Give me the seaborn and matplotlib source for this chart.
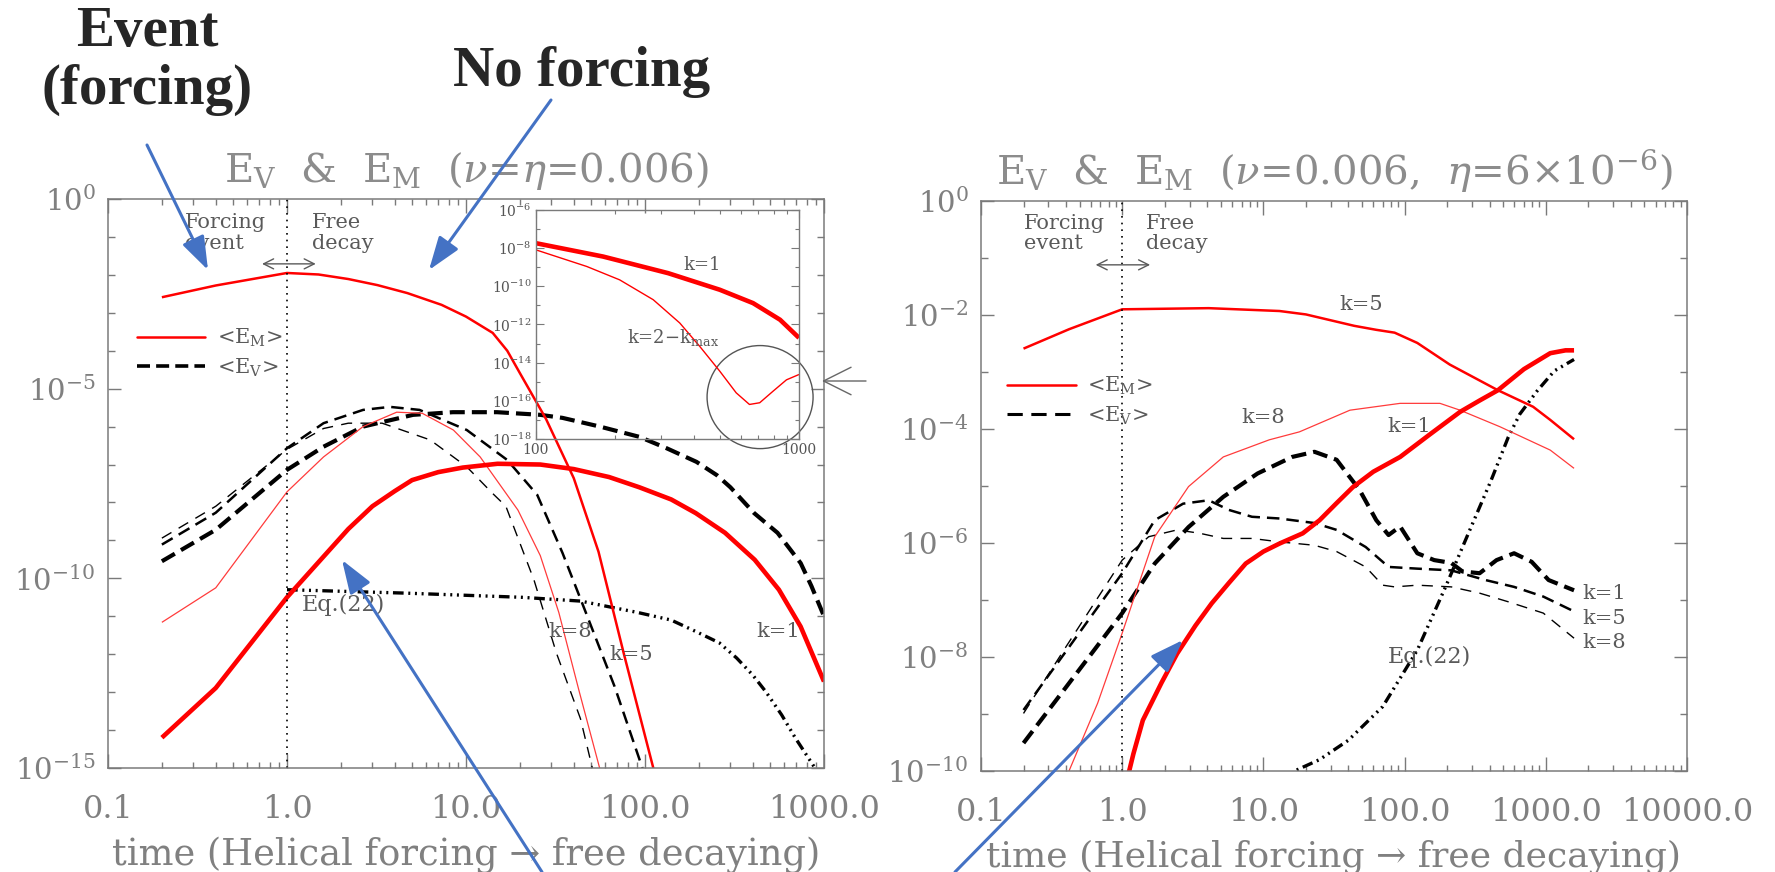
import numpy as np
import matplotlib
matplotlib.use("Agg")
import matplotlib.pyplot as plt
import seaborn as sns
from matplotlib.lines import Line2D
from matplotlib.patches import Ellipse, FancyArrowPatch
from matplotlib.ticker import NullFormatter, LogLocator

sns.set_style("ticks")
plt.rcParams["font.family"] = ["DejaVu Serif"]
plt.rcParams["mathtext.fontset"] = "dejavuserif"

W, H = 1775, 872

# ---- left panel (nu = eta = 0.006), energies stored as log10(E) ----
t_em5_L = [0.2, 0.4, 1.0, 1.5, 2.2, 3.2, 4.7, 7.3, 10.0, 14.1, 17.0, 20.0, 28.0, 40.0, 55.0, 76.0, 120.0]
lg_em5_L = [-2.59, -2.28, -1.95, -1.99, -2.11, -2.27, -2.48, -2.79, -3.1, -3.53, -4.0, -4.59, -5.8, -7.36, -9.3,
            -11.97, -15.6]

t_em1_L = [0.2, 0.4, 1.0, 2.2, 3.0, 4.0, 5.0, 7.0, 9.6, 15.0, 26.0, 40.0, 63.0, 93.0, 140.0, 192.0, 280.0, 410.0,
           560.0, 740.0, 1000.0]
lg_em1_L = [-14.2, -12.89, -10.5, -8.7, -8.1, -7.7, -7.41, -7.2, -7.08, -6.98, -7.0, -7.12, -7.33, -7.6, -7.92,
            -8.28, -8.8, -9.51, -10.3, -11.27, -12.72]

t_em8_L = [0.2, 0.4, 1.0, 1.6, 2.66, 4.1, 5.7, 8.5, 12.0, 19.5, 26.0, 33.0, 43.0, 58.0]
lg_em8_L = [-11.16, -10.25, -7.72, -6.8, -6.0, -5.62, -5.65, -6.09, -6.8, -8.2, -9.4, -10.9, -13.0, -15.3]

t_ev1_L = [0.2, 0.4, 1.0, 1.6, 2.66, 5.06, 8.46, 14.9, 26.0, 34.6, 56.0, 93.0, 132.0, 194.0, 252.0, 300.0, 407.0,
           550.0, 741.0, 850.0, 1000.0]
lg_ev1_L = [-9.55, -8.72, -7.14, -6.53, -6.0, -5.69, -5.62, -5.62, -5.69, -5.77, -6.0, -6.27, -6.57, -6.93, -7.28,
            -7.6, -8.28, -8.8, -9.6, -10.2, -11.0]

t_ev5_L = [0.2, 0.4, 1.0, 1.6, 2.66, 3.76, 5.5, 10.1, 17.0, 25.0, 34.6, 46.7, 67.6, 100.0]
lg_ev5_L = [-9.11, -8.27, -6.57, -5.91, -5.56, -5.48, -5.56, -6.09, -6.88, -7.8, -9.33, -10.9, -12.85, -15.2]

t_ev8_L = [0.2, 0.4, 1.0, 1.6, 2.2, 3.4, 6.3, 10.1, 14.0, 16.7, 24.0, 32.0, 43.6, 52.0]
lg_ev8_L = [-8.94, -8.1, -6.6, -6.05, -5.91, -5.91, -6.35, -7.06, -7.75, -8.1, -10.05, -11.97, -13.7, -15.2]

t_eq22_L = [1.0, 4.6, 20.5, 43.6, 91.0, 140.0, 192.0, 260.0, 325.0, 400.0, 475.0, 580.0, 690.0, 890.0, 1000.0]
lg_eq22_L = [-10.3, -10.39, -10.5, -10.6, -10.9, -11.1, -11.4, -11.7, -12.1, -12.55, -13.0, -13.6, -14.2, -15.0,
             -15.6]

# inset (late times, left run)
t_in_k1 = [100, 180, 318, 500, 669, 847, 1000]
lg_in_k1 = [-7.74, -8.44, -9.31, -10.18, -10.88, -11.75, -12.7]
t_in_k2 = [100, 156, 208, 279, 352, 419, 500, 577, 648, 709, 796, 896, 1000]
lg_in_k2 = [-8.09, -8.96, -9.66, -10.7, -11.92, -13.14, -14.45, -15.58, -16.19, -16.1, -15.5, -14.9, -14.62]

# ---- right panel (nu = 0.006, eta = 6e-6) ----
t_em5_R = [0.2, 0.42, 1.0, 4.1, 13.0, 20.0, 44.0, 63.0, 85.0, 123.0, 209.0, 458.0, 813.0, 1075.0, 1585.0]
lg_em5_R = [-2.59, -2.25, -1.90, -1.88, -1.93, -1.99, -2.19, -2.26, -2.31, -2.49, -2.87, -3.32, -3.61, -3.84, -4.18]

t_em1_R = [1.0, 1.2, 1.4, 1.9, 2.45, 3.3, 4.3, 5.7, 7.5, 10.0, 13.0, 19.0, 25.0, 33.0, 43.0, 60.0, 93.0, 150.0,
           247.0, 340.0, 458.0, 700.0, 1075.0, 1380.0, 1585.0]
lg_em1_R = [-10.5, -9.7, -9.11, -8.45, -7.94, -7.45, -7.06, -6.7, -6.36, -6.15, -6.01, -5.83, -5.60, -5.3, -5.02,
            -4.75, -4.49, -4.1, -3.70, -3.5, -3.32, -2.95, -2.67, -2.62, -2.62]

t_em8_R = [0.2, 0.42, 0.67, 1.0, 1.7, 2.95, 5.2, 11.0, 18.0, 41.0, 93.0, 178.0, 247.0, 473.0, 1075.0, 1585.0]
lg_em8_R = [-12.5, -10.0, -8.81, -7.58, -5.89, -5.01, -4.49, -4.19, -4.05, -3.67, -3.55, -3.55, -3.67, -3.96, -4.37, -4.69]

t_ev1_R = [0.2, 0.4, 1.0, 1.7, 2.95, 5.2, 9.1, 16.0, 23.0, 33.0, 48.0, 63.0, 77.0, 93.0, 123.0, 162.0, 214.0,
           257.0, 340.0, 448.0, 596.0, 794.0, 1047.0, 1380.0, 1585.0]
lg_ev1_R = [-9.51, -8.53, -7.23, -6.36, -5.72, -5.19, -4.78, -4.49, -4.40, -4.54, -5.07, -5.6, -5.86, -5.71, -6.18,
            -6.30, -6.35, -6.50, -6.53, -6.30, -6.18, -6.33, -6.65, -6.77, -6.83]

t_ev5_R = [0.2, 0.4, 1.0, 1.7, 2.7, 4.1, 5.7, 8.3, 13.0, 23.0, 33.0, 53.0, 77.0, 123.0, 214.0, 374.0, 596.0, 960.0, 1585.0]
lg_ev5_R = [-8.93, -7.9, -6.53, -5.6, -5.31, -5.25, -5.42, -5.54, -5.57, -5.65, -5.77, -6.07, -6.42, -6.45, -6.48,
            -6.65, -6.77, -6.94, -7.2]

t_ev8_R = [0.2, 0.4, 1.0, 1.54, 2.45, 3.55, 5.2, 8.3, 13.0, 23.0, 33.0, 53.0, 70.0, 85.0, 123.0, 214.0, 340.0, 540.0,
           960.0, 1585.0]
lg_ev8_R = [-8.99, -7.82, -6.30, -5.89, -5.77, -5.83, -5.92, -5.92, -5.98, -6.04, -6.15, -6.42, -6.74, -6.77, -6.74,
            -6.77, -6.88, -7.03, -7.23, -7.67]

t_eq22_R = [12.0, 16.6, 25.0, 40.0, 70.0, 123.0, 195.0, 283.0, 410.0, 543.0, 654.0, 870.0, 1150.0, 1585.0]
lg_eq22_R = [-10.3, -10.0, -9.8, -9.46, -8.87, -7.88, -6.77, -5.83, -4.90, -4.14, -3.74, -3.33, -2.98, -2.78]

xt_L = [0.1, 1, 10, 100, 1000]
xl_L = ["0.1", "1.0", "10.0", "100.0", "1000.0"]
xt_R = [0.1, 1, 10, 100, 1000, 10000]
xl_R = ["0.1", "1.0", "10.0", "100.0", "1000.0", "10000.0"]

RED = "#ff0000"
RED_THIN = "#ff3b3b"
GREY = "#7a7a7a"
TXT = "#5a5a5a"

THICK_DASH = (0, (3.6, 1.7))
MED_DASH = (0, (5.0, 2.8))
THIN_DASH = (0, (8.0, 6.0))
DASH_DOTS = (0, (3.2, 1.4, 0.6, 1.4, 0.6, 1.4, 0.6, 1.4))


def curve(ax, t, lg, color, lw, ls="-"):
    sns.lineplot(x=t, y=np.power(10.0, lg), ax=ax, color=color, lw=lw, linestyle=ls,
                 estimator=None, sort=False, solid_capstyle="butt", dash_capstyle="butt",
                 solid_joinstyle="round")


def style_axes(ax, xt, xl, ymin, ymaj, xlab_size):
    ax.set_xscale("log")
    ax.set_yscale("log")
    ax.set_xlim(xt[0], xt[-1])
    ax.set_ylim(ymin, 1)
    ax.set_xticks(xt, labels=xl)
    ax.xaxis.set_minor_locator(LogLocator(base=10, subs=np.arange(2, 10), numticks=60))
    ax.xaxis.set_minor_formatter(NullFormatter())
    ax.set_yticks(ymaj, labels=[r"$10^{%d}$" % int(round(np.log10(v))) for v in ymaj])
    decades = [10.0 ** k for k in range(int(round(np.log10(ymin))), 1)]
    ax.set_yticks([d for d in decades if d not in ymaj], minor=True)
    ax.yaxis.set_minor_formatter(NullFormatter())
    for s in ax.spines.values():
        s.set_color(GREY)
        s.set_linewidth(1.1)
        s.set_visible(True)
    ax.tick_params(which="both", direction="in", top=True, right=True, color=GREY, width=1.0)
    ax.tick_params(axis="x", which="major", length=10, pad=19, labelsize=23, labelcolor="#808080")
    ax.tick_params(axis="x", which="minor", length=4.5)
    ax.tick_params(axis="y", which="major", length=9.5, pad=9, labelsize=21, labelcolor="#808080")
    ax.tick_params(axis="y", which="minor", length=5)
    ax.set_xlabel("time (Helical forcing \u2192 free decaying)", fontsize=xlab_size, color="#808080", labelpad=8)
    ax.axvline(1.0, color="k", lw=1.2, linestyle=(0, (1, 3)))


fig = plt.figure(figsize=(W / 100, H / 100), dpi=100)
axL = fig.add_axes([108 / W, 1 - 768 / H, 716 / W, 569 / H])
axR = fig.add_axes([981 / W, 1 - 771 / H, 706 / W, 570 / H])

# ---------------- left panel ----------------
curve(axL, t_ev1_L, lg_ev1_L, "k", 3.0, THICK_DASH)
curve(axL, t_ev5_L, lg_ev5_L, "k", 1.8, MED_DASH)
curve(axL, t_ev8_L, lg_ev8_L, "k", 1.0, THIN_DASH)
curve(axL, t_eq22_L, lg_eq22_L, "k", 2.4, DASH_DOTS)
curve(axL, t_em8_L, lg_em8_L, RED_THIN, 0.9)
curve(axL, t_em5_L, lg_em5_L, RED, 1.8)
curve(axL, t_em1_L, lg_em1_L, RED, 3.3)
style_axes(axL, xt_L, xl_L, 1e-15, [1, 1e-5, 1e-10, 1e-15], 26.5)
axL.set_title(r"E$_\mathrm{V}$  &  E$_\mathrm{M}$  ($\nu$=$\eta$=0.006)", fontsize=29, color="#8c8c8c", pad=12)

axL.text(0.27, 10 ** -0.37, "Forcing\nevent", fontsize=15, color=TXT, va="top", ha="left", linespacing=1.1)
axL.text(1.38, 10 ** -0.37, "Free\ndecay", fontsize=15, color=TXT, va="top", ha="left", linespacing=1.1)
axL.annotate("", xy=(0.70, 10 ** -1.71), xytext=(1.5, 10 ** -1.71),
             arrowprops=dict(arrowstyle="<->", color=TXT, lw=1.0, mutation_scale=18))
axL.text(1.21, 10 ** -10.7, "Eq.(22)", fontsize=16, color=TXT, va="center", ha="left")
axL.text(29, 10 ** -11.4, "k=8", fontsize=15, color=TXT, va="center", ha="left")
axL.text(63, 10 ** -12.0, "k=5", fontsize=15, color=TXT, va="center", ha="left")
axL.text(417, 10 ** -11.4, "k=1", fontsize=15, color=TXT, va="center", ha="left")

handles = [Line2D([], [], color=RED, lw=1.8), Line2D([], [], color="k", lw=2.6, linestyle=THICK_DASH)]
labels = [r"<E$_\mathrm{M}$>", r"<E$_\mathrm{V}$>"]
legL = axL.legend(handles, labels, loc="upper left", bbox_to_anchor=(0.04, 0.775), frameon=False,
                  fontsize=15, handlelength=3.3, handletextpad=0.55, labelspacing=0.35,
                  borderpad=0, borderaxespad=0)
for txt in legL.get_texts():
    txt.set_color(TXT)

# inset
axI = fig.add_axes([536 / W, 1 - 439 / H, 263 / W, 229 / H])
axI.patch.set_alpha(0)
curve(axI, t_in_k1, lg_in_k1, RED, 3.3)
curve(axI, t_in_k2, lg_in_k2, RED, 1.0)
axI.set_xscale("log")
axI.set_yscale("log")
axI.set_xlim(100, 1000)
axI.set_ylim(1e-18, 1e-6)
axI.set_xticks([100, 1000], labels=["100", "1000"])
axI.xaxis.set_minor_locator(LogLocator(base=10, subs=np.arange(2, 10), numticks=20))
axI.xaxis.set_minor_formatter(NullFormatter())
in_maj = [10.0 ** k for k in range(-18, -5, 2)]
axI.set_yticks(in_maj, labels=[r"$10^{%d}$" % k for k in range(-18, -5, 2)])
axI.set_yticks([10.0 ** k for k in range(-17, -6, 2)], minor=True)
axI.yaxis.set_minor_formatter(NullFormatter())
for s in axI.spines.values():
    s.set_color(GREY)
    s.set_linewidth(1.0)
axI.tick_params(which="both", direction="in", top=True, right=True, color=GREY, width=0.8,
                labelsize=10, labelcolor="#555555")
axI.tick_params(which="major", length=6, pad=3)
axI.tick_params(which="minor", length=3)
axI.text(427, 10 ** -8.88, "k=1", fontsize=13, color=TXT, ha="center", va="center")
axI.text(332, 10 ** -12.66, r"k=2$-$k$_\mathrm{max}$", fontsize=13, color=TXT, ha="center", va="center")
axI.add_patch(Ellipse((0.852, 0.183), 0.403, 0.45, transform=axI.transAxes, fill=False,
                      ec="#555555", lw=1.0, clip_on=False))

# ---------------- right panel ----------------
curve(axR, t_ev1_R, lg_ev1_R, "k", 3.0, THICK_DASH)
curve(axR, t_ev5_R, lg_ev5_R, "k", 1.8, MED_DASH)
curve(axR, t_ev8_R, lg_ev8_R, "k", 1.0, THIN_DASH)
curve(axR, t_eq22_R, lg_eq22_R, "k", 2.4, DASH_DOTS)
curve(axR, t_em8_R, lg_em8_R, RED_THIN, 0.9)
curve(axR, t_em5_R, lg_em5_R, RED, 1.8)
curve(axR, t_em1_R, lg_em1_R, RED, 3.3)
style_axes(axR, xt_R, xl_R, 1e-10, [1, 1e-2, 1e-4, 1e-6, 1e-8, 1e-10], 26)
axR.set_title(r"E$_\mathrm{V}$  &  E$_\mathrm{M}$  ($\nu$=0.006,  $\eta$=6$\times$10$^{-6}$)",
              fontsize=29, color="#8c8c8c", pad=12)

axR.text(0.2, 10 ** -0.22, "Forcing\nevent", fontsize=15, color=TXT, va="top", ha="left", linespacing=1.1)
axR.text(1.48, 10 ** -0.22, "Free\ndecay", fontsize=15, color=TXT, va="top", ha="left", linespacing=1.1)
axR.annotate("", xy=(0.62, 10 ** -1.12), xytext=(1.65, 10 ** -1.12),
             arrowprops=dict(arrowstyle="<->", color=TXT, lw=1.0, mutation_scale=18))
axR.text(49, 10 ** -1.82, "k=5", fontsize=15, color=TXT, va="center", ha="center")
axR.text(10, 10 ** -3.8, "k=8", fontsize=15, color=TXT, va="center", ha="center")
axR.text(107, 10 ** -3.96, "k=1", fontsize=15, color=TXT, va="center", ha="center")
axR.text(1820, 10 ** -6.88, "k=1", fontsize=15, color=TXT, va="center", ha="left")
axR.text(1820, 10 ** -7.32, "k=5", fontsize=15, color=TXT, va="center", ha="left")
axR.text(1820, 10 ** -7.74, "k=8", fontsize=15, color=TXT, va="center", ha="left")
axR.text(150, 10 ** -8.0, "Eq.(22)", fontsize=16, color=TXT, va="center", ha="center")
handlesR = [Line2D([], [], color=RED, lw=1.8), Line2D([], [], color="k", lw=2.2, linestyle=MED_DASH)]
legR = axR.legend(handlesR, labels, loc="upper left", bbox_to_anchor=(0.037, 0.695), frameon=False,
                  fontsize=15, handlelength=3.3, handletextpad=0.55, labelspacing=0.35,
                  borderpad=0, borderaxespad=0)
for txt in legR.get_texts():
    txt.set_color(TXT)

# ---------------- overlay annotations ----------------
fig.text(147 / W, 1 - 6 / H, "Event\n(forcing)", ha="center", va="top", fontsize=41,
         fontweight="bold", family="Liberation Serif", linespacing=1.15)
fig.text(582 / W, 1 - 86 / H, "No forcing", ha="center", va="baseline", fontsize=41,
         fontweight="bold", family="Liberation Serif")


def fig_arrow(p0, p1, color="#4472C4", lw=2.2, style="-|>,head_length=0.85,head_width=0.3", ms=24):
    fig.add_artist(FancyArrowPatch((p0[0] / W, 1 - p0[1] / H), (p1[0] / W, 1 - p1[1] / H),
                                   transform=fig.transFigure, arrowstyle=style, mutation_scale=ms,
                                   color=color, lw=lw, shrinkA=0, shrinkB=0))


fig_arrow((147, 145), (208, 270))
fig_arrow((551, 100), (429, 270))
fig_arrow((542, 872), (342, 560))
fig_arrow((955, 872), (1183, 640))
fig_arrow((866, 381), (822, 381), color="#666666", lw=1.0, style="->,head_length=0.9,head_width=0.45", ms=22)

fig.savefig("out.png", dpi=100)
